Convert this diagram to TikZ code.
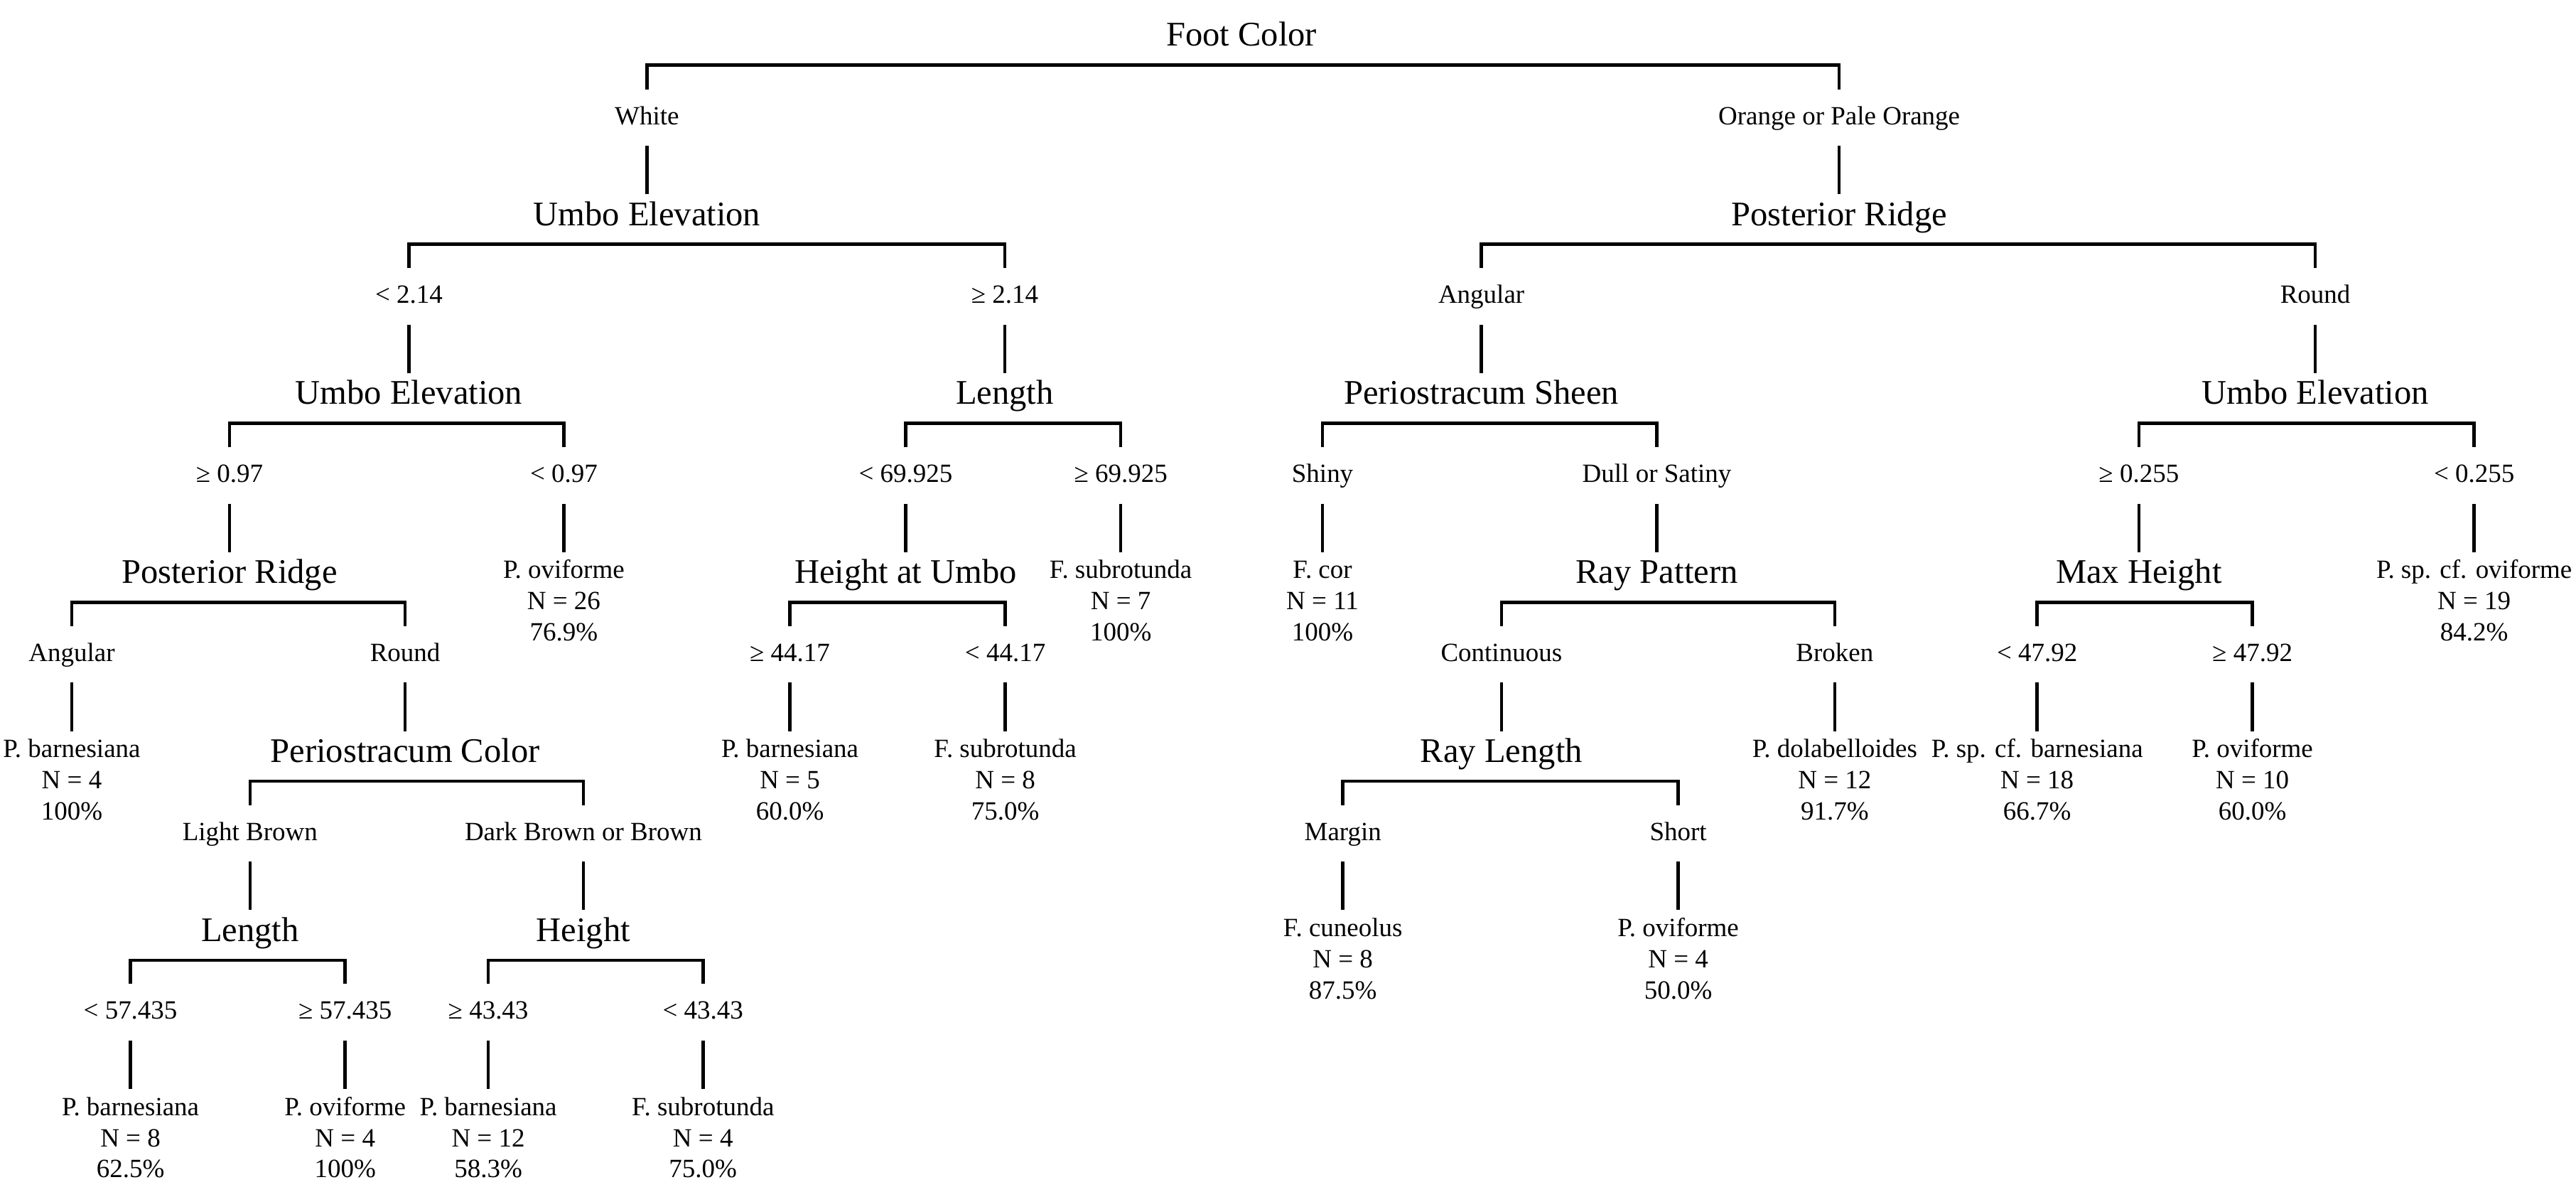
\documentclass[tikz,border=0pt]{standalone}
\usepackage{fontspec}
\setmainfont{Liberation Serif}
\newcommand\leafbox[3]{\begin{tabular}[t]{@{}c@{}}#1\\#2\\#3\end{tabular}}
\newcommand\splitbar[3]{\draw[conn] ([yshift=21.4pt]#2.base) |- ([yshift=-11.5pt]#1.base) -| ([yshift=21.4pt]#3.base);}
\newcommand\stembig[2]{\draw[conn] ([yshift=-13pt]#1.base) -- ([yshift=19pt]#2.base);}
\newcommand\stemleaf[2]{\draw[conn] ([yshift=-13pt]#1.base) -- ([yshift=16pt]#2.base);}
\tikzset{
  conn/.style={line width=2pt, line join=miter},
  big/.style={font=\fontsize{21}{25}\selectfont, anchor=base, inner sep=0pt},
  small/.style={font=\fontsize{16}{19}\selectfont, anchor=base, inner sep=0pt},
  leaf/.style={small}
}
\begin{document}
\begin{tikzpicture}[x=1pt,y=-1pt]
\fill[white] (0,0) rectangle (1568,725);
\useasboundingbox (0,0) rectangle (1568,725);
% level 0
\node[big] (root) at (755.7,28) {Foot Color};
% level 1
\node[small] (lwhite) at (393.8,75.7) {White};
\node[small] (lorange) at (1119.5,75.7) {Orange or Pale Orange};
\node[big] (ue1) at (393.8,137.2) {Umbo Elevation};
\node[big] (pr1) at (1119.5,137.2) {Posterior Ridge};
% level 2
\node[small] (llt214) at (248.9,184.6) {< 2.14};
\node[small] (lge214) at (611.6,184.6) {≥ 2.14};
\node[small] (lang1) at (901.7,184.6) {Angular};
\node[small] (lrnd1) at (1409.3,184.6) {Round};
\node[big] (ue2) at (248.9,246.1) {Umbo Elevation};
\node[big] (len1) at (611.6,246.1) {Length};
\node[big] (ps) at (901.7,246.1) {Periostracum Sheen};
\node[big] (ue3) at (1409.3,246.1) {Umbo Elevation};
% level 3
\node[small] (lge097) at (139.7,293.5) {≥ 0.97};
\node[small] (llt097) at (343.2,293.5) {< 0.97};
\node[small] (llt699) at (551.3,293.5) {< 69.925};
\node[small] (lge699) at (682.2,293.5) {≥ 69.925};
\node[small] (lshiny) at (805,293.5) {Shiny};
\node[small] (ldull) at (1008.5,293.5) {Dull or Satiny};
\node[small] (lge0255) at (1301.9,293.5) {≥ 0.255};
\node[small] (llt0255) at (1506,293.5) {< 0.255};
\node[big] (pr2) at (139.7,355) {Posterior Ridge};
\node[leaf] (leafA) at (343.2,352) {\leafbox{P. oviforme}{N = 26}{76.9\%}};
\node[big] (hu) at (551.3,355) {Height at Umbo};
\node[leaf] (leafB) at (682.2,352) {\leafbox{F. subrotunda}{N = 7}{100\%}};
\node[leaf] (leafC) at (805,352) {\leafbox{F. cor}{N = 11}{100\%}};
\node[big] (rp) at (1008.5,355) {Ray Pattern};
\node[big] (mh) at (1301.9,355) {Max Height};
\node[leaf] (leafD) at (1506,352) {\leafbox{P. sp. cf. oviforme}{N = 19}{84.2\%}};
% level 4
\node[small] (lang2) at (43.7,402.4) {Angular};
\node[small] (lrnd2) at (246.6,402.4) {Round};
\node[small] (lge4417) at (480.8,402.4) {≥ 44.17};
\node[small] (llt4417) at (611.9,402.4) {< 44.17};
\node[small] (lcont) at (913.9,402.4) {Continuous};
\node[small] (lbrok) at (1116.8,402.4) {Broken};
\node[small] (llt4792) at (1240,402.4) {< 47.92};
\node[small] (lge4792) at (1371,402.4) {≥ 47.92};
\node[leaf] (leafE) at (43.7,460.9) {\leafbox{P. barnesiana}{N = 4}{100\%}};
\node[big] (pc) at (246.6,463.9) {Periostracum Color};
\node[leaf] (leafF) at (480.8,460.9) {\leafbox{P. barnesiana}{N = 5}{60.0\%}};
\node[leaf] (leafG) at (611.9,460.9) {\leafbox{F. subrotunda}{N = 8}{75.0\%}};
\node[big] (rl) at (913.9,463.9) {Ray Length};
\node[leaf] (leafH) at (1116.8,460.9) {\leafbox{P. dolabelloides}{N = 12}{91.7\%}};
\node[leaf] (leafI) at (1240,460.9) {\leafbox{P. sp. cf. barnesiana}{N = 18}{66.7\%}};
\node[leaf] (leafJ) at (1371,460.9) {\leafbox{P. oviforme}{N = 10}{60.0\%}};
% level 5
\node[small] (llb) at (152.2,511.3) {Light Brown};
\node[small] (ldb) at (355.1,511.3) {Dark Brown or Brown};
\node[small] (lmargin) at (817.4,511.3) {Margin};
\node[small] (lshort) at (1021.5,511.3) {Short};
\node[big] (len2) at (152.2,572.8) {Length};
\node[big] (ht) at (355.1,572.8) {Height};
\node[leaf] (leafK) at (817.4,569.8) {\leafbox{F. cuneolus}{N = 8}{87.5\%}};
\node[leaf] (leafL) at (1021.5,569.8) {\leafbox{P. oviforme}{N = 4}{50.0\%}};
% level 6
\node[small] (llt57) at (79.4,620.2) {< 57.435};
\node[small] (lge57) at (210.1,620.2) {≥ 57.435};
\node[small] (lge4343) at (297.2,620.2) {≥ 43.43};
\node[small] (llt4343) at (427.9,620.2) {< 43.43};
\node[leaf] (leafM) at (79.4,678.7) {\leafbox{P. barnesiana}{N = 8}{62.5\%}};
\node[leaf] (leafN) at (210.1,678.7) {\leafbox{P. oviforme}{N = 4}{100\%}};
\node[leaf] (leafO) at (297.2,678.7) {\leafbox{P. barnesiana}{N = 12}{58.3\%}};
\node[leaf] (leafP) at (427.9,678.7) {\leafbox{F. subrotunda}{N = 4}{75.0\%}};
% bars
\splitbar{root}{lwhite}{lorange}
\splitbar{ue1}{llt214}{lge214}
\splitbar{pr1}{lang1}{lrnd1}
\splitbar{ue2}{lge097}{llt097}
\splitbar{len1}{llt699}{lge699}
\splitbar{ps}{lshiny}{ldull}
\splitbar{ue3}{lge0255}{llt0255}
\splitbar{pr2}{lang2}{lrnd2}
\splitbar{hu}{lge4417}{llt4417}
\splitbar{rp}{lcont}{lbrok}
\splitbar{mh}{llt4792}{lge4792}
\splitbar{pc}{llb}{ldb}
\splitbar{rl}{lmargin}{lshort}
\splitbar{len2}{llt57}{lge57}
\splitbar{ht}{lge4343}{llt4343}
% stems
\stembig{lwhite}{ue1}
\stembig{lorange}{pr1}
\stembig{llt214}{ue2}
\stembig{lge214}{len1}
\stembig{lang1}{ps}
\stembig{lrnd1}{ue3}
\stembig{lge097}{pr2}
\stemleaf{llt097}{leafA}
\stembig{llt699}{hu}
\stemleaf{lge699}{leafB}
\stemleaf{lshiny}{leafC}
\stembig{ldull}{rp}
\stembig{lge0255}{mh}
\stemleaf{llt0255}{leafD}
\stemleaf{lang2}{leafE}
\stembig{lrnd2}{pc}
\stemleaf{lge4417}{leafF}
\stemleaf{llt4417}{leafG}
\stembig{lcont}{rl}
\stemleaf{lbrok}{leafH}
\stemleaf{llt4792}{leafI}
\stemleaf{lge4792}{leafJ}
\stembig{llb}{len2}
\stembig{ldb}{ht}
\stemleaf{lmargin}{leafK}
\stemleaf{lshort}{leafL}
\stemleaf{llt57}{leafM}
\stemleaf{lge57}{leafN}
\stemleaf{lge4343}{leafO}
\stemleaf{llt4343}{leafP}
\end{tikzpicture}
\end{document}
